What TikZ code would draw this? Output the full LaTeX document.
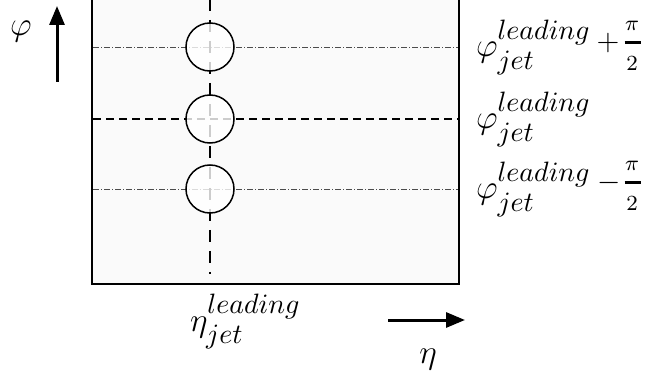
\documentclass[tikz,border=0pt]{standalone}
\usepackage{amsmath}
\usetikzlibrary{arrows.meta}
\DeclareMathSizes{12}{12}{10}{7}
\tikzset{
  bigfont/.style={font=\fontsize{12}{14}\selectfont, inner sep=0pt, outer sep=0pt, scale=2.8},
  signfont/.style={font=\fontsize{12}{14}\selectfont, inner sep=0pt, outer sep=0pt, scale=2.5},
  fracfont/.style={font=\fontsize{8}{10}\selectfont, inner sep=0pt, outer sep=0pt, scale=2.7},
  fracbar/.style={line width=3pt},
  axisarrow/.style={line width=3pt, -{Triangle[length=19pt,width=15pt]}},
  dashdotline/.style={draw=black!70, line width=0.6pt, dash pattern=on 6pt off 2pt on 1pt off 2pt},
  centerdash/.style={line width=1.6pt, dash pattern=on 8pt off 5pt},
  vertdash/.style={line width=1.6pt, dash pattern=on 12pt off 9pt},
  jetcircle/.style={circle, draw, line width=1.5pt, fill=white, fill opacity=0.8, minimum size=48pt, inner sep=0pt},
}
\begin{document}
\begin{tikzpicture}[x=1pt,y=-1pt]
\useasboundingbox (0,0) rectangle (646,385);
% box
\draw[line width=2pt, fill=black!2] (92,-5) rectangle (459,284);
\coordinate (L1) at (93,47); \coordinate (R1) at (458,47);
\coordinate (L2) at (93,119); \coordinate (R2) at (458,119);
\coordinate (L3) at (93,189); \coordinate (R3) at (458,189);
\coordinate (VT) at (210,-1); \coordinate (VB) at (210,274);
\draw[vertdash] (VT) -- (VB);
\draw[dashdotline] (L1) -- (R1);
\draw[centerdash] (L2) -- (R2);
\draw[dashdotline] (L3) -- (R3);
\node[jetcircle] (c1) at (210,47) {};
\node[jetcircle] (c2) at (210,119) {};
\node[jetcircle] (c3) at (210,189) {};
% axis arrows
\coordinate (ua) at (57,82); \coordinate (ub) at (57,6);
\draw[axisarrow] (ua) -- (ub);
\coordinate (ra) at (388,320); \coordinate (rb) at (465,320);
\draw[axisarrow] (ra) -- (rb);
\node[bigfont] (phiax) at (21,32) {$\varphi$};
\node[bigfont] (etaax) at (428,360) {$\eta$};
% labels
\node[bigfont, anchor=base west] (p1) at (476,57) {$\varphi^{leading}_{jet}$};
\node[bigfont, anchor=base west] (p2) at (476,129) {$\varphi^{leading}_{jet}$};
\node[bigfont, anchor=base west] (p3) at (476,199) {$\varphi^{leading}_{jet}$};
% + pi/2
\node[signfont] (plus) at (608,43) {$+$};
\node[fracfont] (pi1) at (632,26) {$\pi$};
\node[fracfont] (two1) at (632,63.5) {$2$};
\coordinate (b1l) at (624.5,43); \coordinate (b1r) at (641,43);
\draw[fracbar] (b1l) -- (b1r);
% - pi/2
\node[signfont] (minus) at (609,183) {$-$};
\node[fracfont] (pi3) at (632,166) {$\pi$};
\node[fracfont] (two3) at (632,203.5) {$2$};
\coordinate (b3l) at (624.5,183); \coordinate (b3r) at (641,183);
\draw[fracbar] (b3l) -- (b3r);
\node[bigfont, anchor=base west] (eta) at (190,331) {$\eta^{leading}_{jet}$};
\end{tikzpicture}
\end{document}
